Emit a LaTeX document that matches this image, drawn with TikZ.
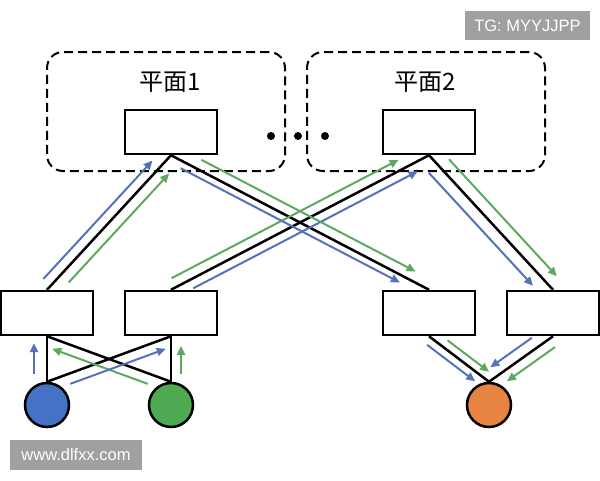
\documentclass[tikz,border=0pt]{standalone}
\usepackage{fontspec}
\setmainfont{Liberation Sans}
\newfontfamily\cjk{Noto Sans CJK SC}
\usetikzlibrary{arrows.meta,calc}

\definecolor{flowblue}{RGB}{84,114,188}
\definecolor{flowgreen}{RGB}{92,170,96}
\definecolor{hostblue}{RGB}{68,114,196}
\definecolor{hostgreen}{RGB}{78,170,82}
\definecolor{hostorange}{RGB}{232,132,66}
\definecolor{markgray}{RGB}{160,160,160}

\begin{document}
\begin{tikzpicture}[
  x=1pt, y=-1pt,
  switch/.style={
    draw,
    fill=white,
    line width=2.5pt,
    minimum width=92pt,
    minimum height=44pt,
    inner sep=0pt
  },
  plane/.style={
    draw,
    line width=2pt,
    dash pattern=on 9pt off 5pt,
    rounded corners=16pt,
    minimum width=238pt,
    minimum height=119pt
  },
  host/.style={
    circle,
    draw,
    line width=2.5pt,
    minimum size=44pt,
    inner sep=0pt
  },
  dotnode/.style={
    circle,
    fill=black,
    minimum size=8pt,
    inner sep=0pt
  },
  plane label/.style={
    font=\cjk\fontsize{24}{28}\selectfont
  },
  link/.style={
    line width=2.5pt
  },
  bflow/.style={
    flowblue,
    line width=2pt,
    -{Triangle[length=9pt,width=8pt]}
  },
  gflow/.style={
    flowgreen,
    line width=2pt,
    -{Triangle[length=9pt,width=8pt]}
  },
  watermark/.style={
    fill=markgray,
    text=white,
    inner sep=0pt,
    font=\fontsize{16.5}{18}\selectfont
  }
]
\useasboundingbox (0,0) rectangle (600,480);

% Planes
\node[plane] (pl1) at (166,111.5) {};
\node[plane] (pl2) at (426,111.5) {};
\node[plane label] (t1) at (170,82) {平面1};
\node[plane label] (t2) at (425,82) {平面2};
\node[dotnode] (d1) at (271,136) {};
\node[dotnode] (d2) at (298,136) {};
\node[dotnode] (d3) at (325,136) {};

% Nodes
\node[switch] (sp1) at (171,132) {};
\node[switch] (sp2) at (429,132) {};
\node[switch] (la) at (47,313) {};
\node[switch] (lb) at (171,313) {};
\node[switch] (lc) at (429,313) {};
\node[switch] (ld) at (553,313) {};
\node[host, fill=hostblue] (hb) at (47,405) {};
\node[host, fill=hostgreen] (hg) at (171,405) {};
\node[host, fill=hostorange] (ho) at (489,405) {};

% Links
\draw[link] (la.north) -- (sp1.south) -- (lc.north);
\draw[link] (lb.north) -- (sp2.south) -- (ld.north);
\draw[link] (la.south) -- (hb.north);
\draw[link] (la.south) -- (hg.north);
\draw[link] (lb.south) -- (hb.north);
\draw[link] (lb.south) -- (hg.north);
\draw[link] (lc.south) -- (ho.north) -- (ld.south);

% Flows, hosts to leaves
\draw[bflow] ($(la.south)!0.83!(hb.north)!-13pt!90:(hb.north)$) -- ($(la.south)!0.15!(hb.north)!-13pt!90:(hb.north)$);
\draw[gflow] ($(la.south)!0.84!(hg.north)!-10pt!90:(hg.north)$) -- ($(la.south)!0.07!(hg.north)!-10pt!90:(hg.north)$);
\draw[bflow] ($(lb.south)!0.84!(hb.north)!10pt!90:(hb.north)$) -- ($(lb.south)!0.07!(hb.north)!10pt!90:(hb.north)$);
\draw[gflow] ($(lb.south)!0.83!(hg.north)!10pt!90:(hg.north)$) -- ($(lb.south)!0.21!(hg.north)!10pt!90:(hg.north)$);

% Flows, leaves to planes
\draw[bflow] ($(la.north)!0.03!(sp1.south)!10pt!90:(sp1.south)$) -- ($(la.north)!0.91!(sp1.south)!10pt!90:(sp1.south)$);
\draw[gflow] ($(la.north)!0.11!(sp1.south)!-11pt!90:(sp1.south)$) -- ($(la.north)!0.92!(sp1.south)!-11pt!90:(sp1.south)$);
\draw[gflow] ($(lb.north)!0.02!(sp2.south)!10pt!90:(sp2.south)$) -- ($(lb.north)!0.90!(sp2.south)!10pt!90:(sp2.south)$);
\draw[bflow] ($(lb.north)!0.07!(sp2.south)!-9pt!90:(sp2.south)$) -- ($(lb.north)!0.94!(sp2.south)!-9pt!90:(sp2.south)$);

% Flows, planes to leaves
\draw[bflow] ($(sp1.south)!0.05!(lc.north)!-7pt!90:(lc.north)$) -- ($(sp1.south)!0.90!(lc.north)!-7pt!90:(lc.north)$);
\draw[gflow] ($(sp1.south)!0.10!(lc.north)!10pt!90:(lc.north)$) -- ($(sp1.south)!0.93!(lc.north)!10pt!90:(lc.north)$);
\draw[bflow] ($(sp2.south)!0.07!(ld.north)!-12pt!90:(ld.north)$) -- ($(sp2.south)!0.91!(ld.north)!-12pt!90:(ld.north)$);
\draw[gflow] ($(sp2.south)!0.09!(ld.north)!12pt!90:(ld.north)$) -- ($(sp2.south)!0.96!(ld.north)!12pt!90:(ld.north)$);

% Flows, leaves to host
\draw[bflow] ($(lc.south)!0.05!(ho.north)!-8pt!90:(ho.north)$) -- ($(lc.south)!0.85!(ho.north)!-8pt!90:(ho.north)$);
\draw[gflow] ($(lc.south)!0.23!(ho.north)!8pt!90:(ho.north)$) -- ($(lc.south)!0.92!(ho.north)!8pt!90:(ho.north)$);
\draw[bflow] ($(ld.south)!0.23!(ho.north)!-11pt!90:(ho.north)$) -- ($(ld.south)!0.88!(ho.north)!-11pt!90:(ho.north)$);
\draw[gflow] ($(ld.south)!0.06!(ho.north)!10pt!90:(ho.north)$) -- ($(ld.south)!0.81!(ho.north)!10pt!90:(ho.north)$);

% Watermarks
\node[watermark, minimum width=125pt, minimum height=29pt] (tg) at (527.5,25.5) {TG: MYYJJPP};
\node[watermark, minimum width=132pt, minimum height=30pt] (www) at (76,455) {www.dlfxx.com};
\end{tikzpicture}
\end{document}
